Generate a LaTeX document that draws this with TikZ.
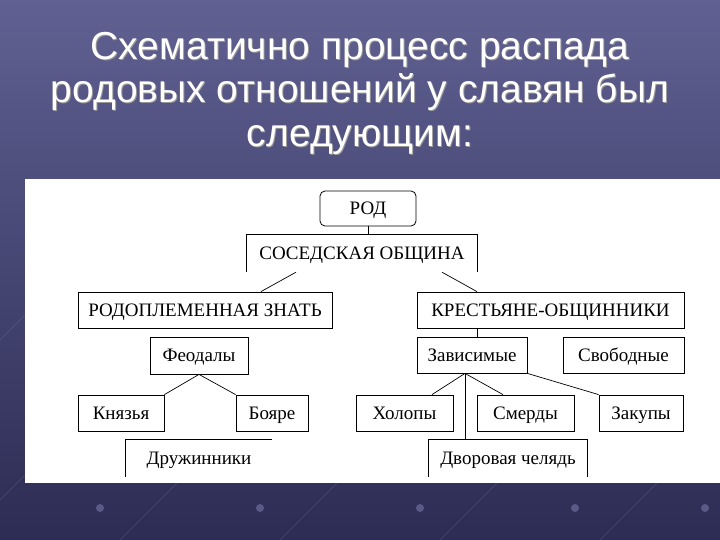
\documentclass[tikz,border=0pt]{standalone}
\usepackage{fontspec}
\setmainfont{Liberation Serif}
\newfontfamily\slidefont{Liberation Sans}
\usetikzlibrary{positioning,calc}
\definecolor{slidetop}{RGB}{96,96,146}
\definecolor{slidebot}{RGB}{44,44,84}
\definecolor{slideline}{RGB}{120,120,170}
\tikzset{
  box/.style={draw, line width=0.8pt, minimum width=#1, minimum height=36pt, inner sep=0pt,
    text height=14pt, text depth=2pt, font=\fontsize{19}{22}\selectfont},
  openbox/.style={minimum width=#1, minimum height=37pt, inner sep=0pt,
    text height=14pt, text depth=2pt, font=\fontsize{19}{22}\selectfont},
  link/.style={line width=0.7pt}
}

\begin{document}
\begin{tikzpicture}[x=1pt, y=-1pt]
        \useasboundingbox (0,0) rectangle (720,540);
        \clip (0,0) rectangle (720,540);
        \shade[top color=slidetop, bottom color=slidebot] (0,0) rectangle (720,540);
        \foreach \s in {-200,-40,120,280,440,600,760} {
          \draw[slideline, opacity=0.35] (\s,540) -- ({\s+300},240);
        }
        \foreach \s in {100,260,420,575,705} {
          \fill[slideline, opacity=0.6] (\s,508) circle (4);
        }
        \fill[white] (25,179) rectangle (720,483);
        \node[align=center, text=black!40, font=\slidefont\fontsize{39}{43.5}\selectfont] at (361,94)
          {Схематично процесс распада\\родовых отношений у славян был\\следующим:};
        \node[align=center, text=white, font=\slidefont\fontsize{39}{43.5}\selectfont] (title) at (360,93)
          {Схематично процесс распада\\родовых отношений у славян был\\следующим:};
        \node[box=96, rounded corners=5pt, minimum height=35pt] (rod) at (368,208.5) {РОД};
        \node[openbox=230] (obsh) at (362,253.5) {СОСЕДСКАЯ ОБЩИНА};
        \node[box=254] (znat) at (205,310) {РОДОПЛЕМЕННАЯ ЗНАТЬ};
        \node[box=267] (krest) at (550.5,310) {КРЕСТЬЯНЕ-ОБЩИННИКИ};
        \node[box=98, minimum height=37pt] (feod) at (199,355.5) {Феодалы};
        \node[box=110] (zavis) at (472,355) {Зависимые};
        \node[box=121] (svob) at (623.5,355) {Свободные};
        \node[box=86] (knyaz) at (121,413) {Князья};
        \node[box=72] (boyar) at (272,413) {Бояре};
        \node[box=97] (kholop) at (404.5,413) {Холопы};
        \node[box=97] (smerd) at (525.5,413) {Смерды};
        \node[box=84] (zakup) at (641,413) {Закупы};
        \node[openbox=146] (druzh) at (199,458.5) {Дружинники};
        \node[openbox=158] (dvor) at (508,458.5) {Дворовая челядь};
        \draw[link] (obsh.south west) -- (obsh.north west) -- (obsh.north east) -- (obsh.south east);
        \draw[link] (druzh.south west) -- (druzh.north west) -- (druzh.north east);
        \draw[link] (dvor.south west) -- (dvor.north west) -- (dvor.north east) -- (dvor.south east);
        \draw[link] (rod.south) -- (rod.south |- obsh.north);
        \draw[link] ([xshift=-66pt]obsh.south) -- ([xshift=56pt]znat.north);
        \draw[link] ([xshift=80pt]obsh.south) -- ([xshift=-73.5pt]krest.north);
        \draw[link] ([xshift=5pt]zavis.north) -- ([xshift=5pt]zavis.north |- krest.south);
        \draw[link] (feod.south) -- (knyaz.north east);
        \draw[link] (feod.south) -- (boyar.north west);
        \coordinate (zp) at ([xshift=-7pt]zavis.south);
        \draw[link] (zp) -- ([xshift=27.5pt]kholop.north);
        \draw[link] (zp) -- ([xshift=-22.5pt]smerd.north);
        \draw[link] (zp) -- (zp |- dvor.north);
        \draw[link] (zavis.south east) -- (zakup.north west);
\end{tikzpicture}
\end{document}
